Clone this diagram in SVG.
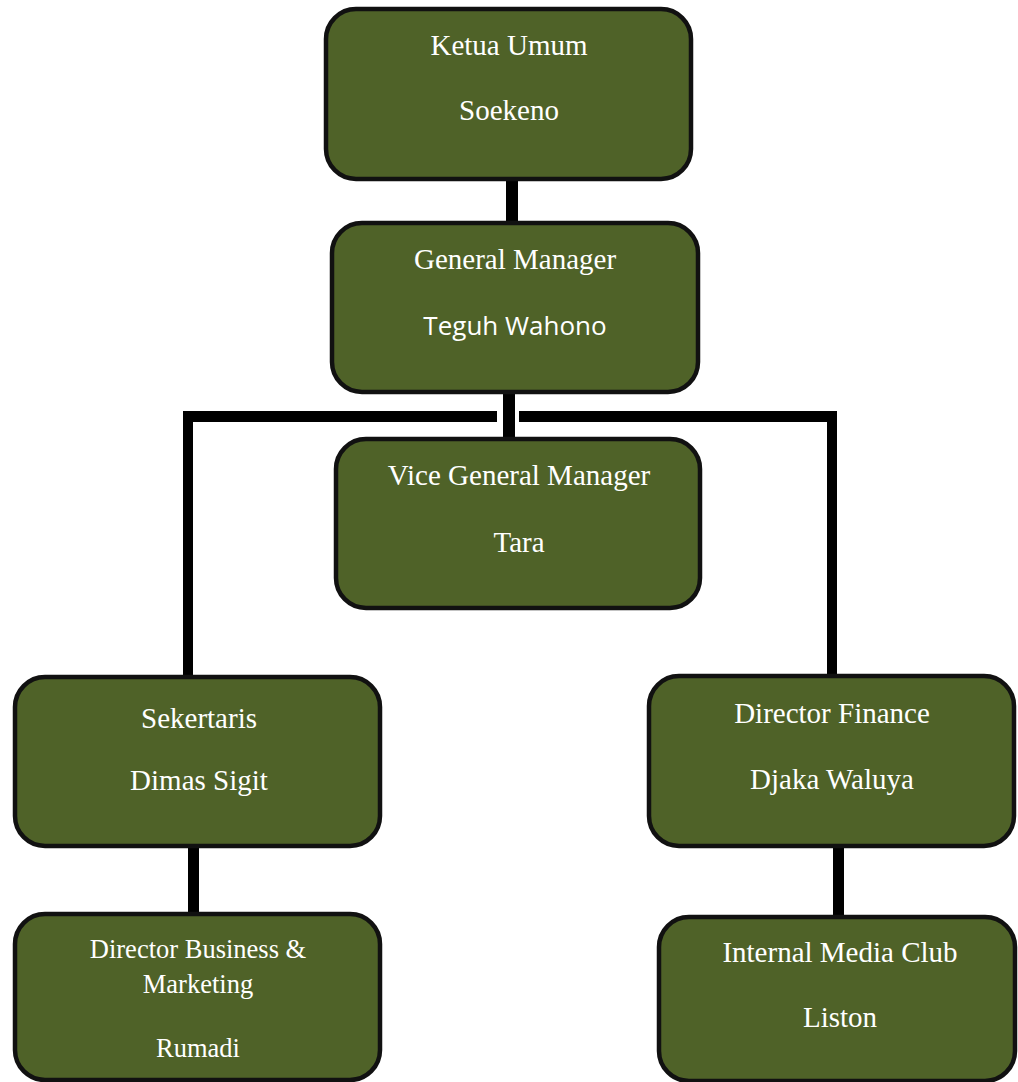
<svg xmlns="http://www.w3.org/2000/svg" width="1018" height="1082" viewBox="0 0 1018 1082">
<style>
.box{fill:#4F6228;stroke:#111;stroke-width:4.5}
.t{font-family:"Liberation Serif","Times New Roman",serif;font-size:29px;fill:#fff;text-anchor:middle}
.s{font-family:"Open Sans","Liberation Sans",sans-serif;font-size:26px;fill:#fff;text-anchor:middle}
.c{fill:#000}
</style>
<rect width="1018" height="1082" fill="#fff"/>
<g id="connectors">
<rect class="c" x="506" y="178" width="12" height="47"/>
<rect class="c" x="503" y="392" width="12" height="48"/>
<rect class="c" x="183" y="411" width="314" height="11"/>
<rect class="c" x="183" y="411" width="10" height="267"/>
<rect class="c" x="519" y="411" width="318" height="11"/>
<rect class="c" x="827" y="411" width="10" height="267"/>
<rect class="c" x="188" y="845" width="11" height="70"/>
<rect class="c" x="833" y="845" width="11" height="73"/>
</g>
<g id="ketua">
<rect class="box" x="326" y="9" width="365" height="170" rx="30"/>
<text class="t" x="509" y="55">Ketua Umum</text>
<text class="t" x="509" y="120">Soekeno</text>
</g>
<g id="gm">
<rect class="box" x="332" y="223" width="366" height="169" rx="30"/>
<text class="t" x="515" y="269">General Manager</text>
<text class="s" x="515" y="335">Teguh Wahono</text>
</g>
<g id="vgm">
<rect class="box" x="336" y="439" width="364" height="169" rx="30"/>
<text class="t" x="519" y="485">Vice General Manager</text>
<text class="t" x="519" y="552">Tara</text>
</g>
<g id="sekertaris">
<rect class="box" x="15" y="677" width="365" height="169" rx="30"/>
<text class="t" x="199" y="728">Sekertaris</text>
<text class="t" x="199" y="790">Dimas Sigit</text>
</g>
<g id="finance">
<rect class="box" x="649" y="676" width="365" height="170" rx="30"/>
<text class="t" x="832" y="723">Director Finance</text>
<text class="t" x="832" y="789">Djaka Waluya</text>
</g>
<g id="business">
<rect class="box" x="15" y="914" width="365" height="166" rx="30"/>
<text class="t" x="198" y="958" style="font-size:26.5px">Director Business &amp;</text>
<text class="t" x="198" y="993" style="font-size:26.5px">Marketing</text>
<text class="t" x="198" y="1057" style="font-size:26.5px">Rumadi</text>
</g>
<g id="media">
<rect class="box" x="659" y="917" width="356" height="164" rx="30"/>
<text class="t" x="840" y="962">Internal Media Club</text>
<text class="t" x="840" y="1027">Liston</text>
</g>
</svg>
